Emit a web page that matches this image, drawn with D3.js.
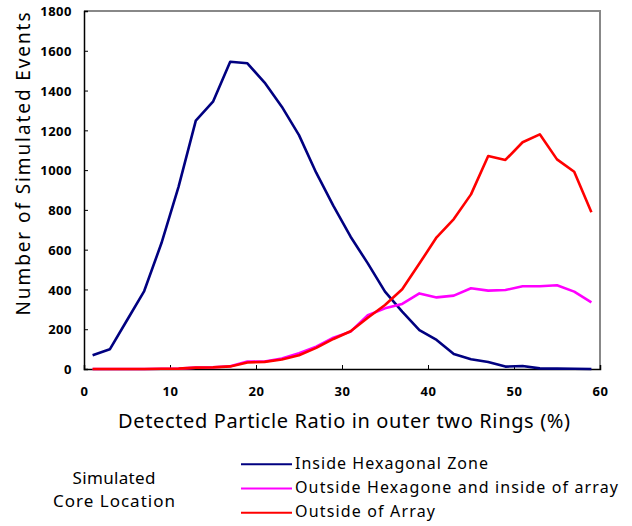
<!DOCTYPE html>
<html>
<head>
    <style>
        body { margin: 0; background: #fff; }
        text { font-family: "Noto Sans", "Noto Sans CJK JP", sans-serif; fill: #000; }
    </style>
    <script src="https://d3js.org/d3.v7.min.js"></script>
</head>
<body>
    <div id="chart"></div>
    <script>
        const width = 632, height = 526;
        const margin = {top: 11, right: 32, bottom: 157, left: 84};

        // detected particle ratio (%), bin centres
        const ratio = [1, 3, 5, 7, 9, 11, 13, 15, 17, 19, 21, 23, 25, 27, 29,
                       31, 33, 35, 37, 39, 41, 43, 45, 47, 49, 51, 53, 55, 57, 59];

        const insideHex = [69, 99, 245, 392, 632, 917, 1249, 1344, 1545, 1537, 1440, 1319, 1176, 987, 820,
                           665, 531, 389, 288, 196, 146, 75, 49, 35, 12, 15, 3, 2, 1, 0];
        const outsideHex = [0, 0, 0, 0, 1, 2, 7, 9, 14, 38, 38, 53, 79, 112, 157,
                            188, 270, 305, 327, 380, 360, 369, 406, 394, 397, 416, 416, 421, 389, 335];
        const outsideArray = [0, 0, 0, 0, 1, 2, 7, 8, 13, 33, 36, 48, 69, 106, 151,
                              190, 258, 322, 401, 530, 662, 754, 878, 1071, 1051, 1140, 1180, 1054, 992, 788];

        const seriesNames = ["Inside Hexagonal Zone", "Outside Hexagone and inside of array", "Outside of Array"];
        const seriesColors = ["#000080", "#ff00ff", "#ff0000"];
        const xTicks = [0, 10, 20, 30, 40, 50, 60];
        const yTicks = [0, 200, 400, 600, 800, 1000, 1200, 1400, 1600, 1800];

        const svg = d3.select("#chart").append("svg")
            .attr("width", width)
            .attr("height", height);

        const x = d3.scaleLinear().domain([0, 60]).range([margin.left, width - margin.right]);
        const y = d3.scaleLinear().domain([0, 1800]).range([height - margin.bottom, margin.top]);

        // gray frame on top and right
        svg.append("path")
            .attr("d", `M${x(0)},${y(1800)}H${x(60)}V${y(0)}`)
            .attr("fill", "none")
            .attr("stroke", "#888")
            .attr("stroke-width", 2);

        const xAxis = svg.append("g")
            .attr("transform", `translate(0,${y(0)})`)
            .call(d3.axisBottom(x).tickValues(xTicks).tickFormat(d3.format("d")).tickSize(-4).tickPadding(18));
        const yAxis = svg.append("g")
            .attr("transform", `translate(${x(0)},0)`)
            .call(d3.axisLeft(y).tickValues(yTicks).tickFormat(d3.format("d")).tickSize(-4).tickPadding(12));

        [xAxis, yAxis].forEach(g => {
            g.select(".domain").attr("stroke", "#000").attr("stroke-width", 1.5);
            g.selectAll(".tick line").attr("stroke", "#000");
            g.selectAll(".tick text")
                .style("font-size", "13px")
                .style("font-weight", "bold")
                .style("letter-spacing", "0.5px")
                .attr("fill", "#000");
        });
        yAxis.selectAll(".tick text").attr("dy", "0.36em");

        // data lines
        const line = d3.line().x((d, i) => x(ratio[i])).y(d => y(d));
        [insideHex, outsideHex, outsideArray].forEach((vals, k) => {
            svg.append("path")
                .datum(vals)
                .attr("fill", "none")
                .attr("stroke", seriesColors[k])
                .attr("stroke-width", 2.6)
                .attr("stroke-linejoin", "round")
                .attr("d", line);
        });

        // axis titles
        svg.append("text")
            .attr("x", 344)
            .attr("y", 428)
            .attr("text-anchor", "middle")
            .attr("textLength", 452)
            .attr("lengthAdjust", "spacing")
            .style("font-size", "20px")
            .text("Detected Particle Ratio in outer two Rings (%)");

        svg.append("text")
            .attr("transform", "translate(30,164) rotate(-90)")
            .attr("text-anchor", "middle")
            .attr("textLength", 303)
            .attr("lengthAdjust", "spacing")
            .style("font-size", "19px")
            .text("Number of Simulated Events");

        // legend
        svg.append("text")
            .attr("x", 114).attr("y", 484)
            .attr("text-anchor", "middle")
            .attr("textLength", 83)
            .attr("lengthAdjust", "spacing")
            .style("font-size", "17px")
            .text("Simulated");
        svg.append("text")
            .attr("x", 114).attr("y", 507)
            .attr("text-anchor", "middle")
            .attr("textLength", 122)
            .attr("lengthAdjust", "spacing")
            .style("font-size", "17px")
            .text("Core Location");

        const legendWidths = [193, 323, 140];
        const legend = svg.append("g");
        seriesNames.forEach((name, k) => {
            const ly = 464.3 + k * 24.2;
            legend.append("line")
                .attr("x1", 241).attr("x2", 292)
                .attr("y1", ly).attr("y2", ly)
                .attr("stroke", seriesColors[k])
                .attr("stroke-width", 2);
            legend.append("text")
                .attr("x", 295).attr("y", ly + 4.5)
                .attr("textLength", legendWidths[k])
                .attr("lengthAdjust", "spacing")
                .style("font-size", "16px")
                .text(name);
        });
    </script>
</body>
</html>
